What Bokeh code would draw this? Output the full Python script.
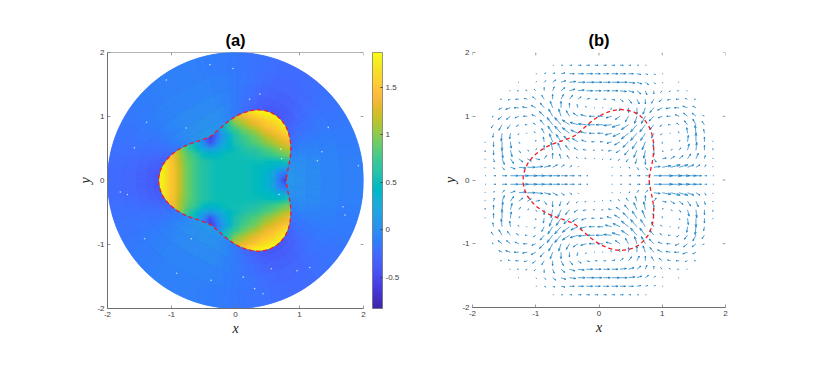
import math
import numpy as np
from bokeh.embed import file_html
from bokeh.resources import INLINE
from bokeh.plotting import figure
from bokeh.layouts import row
from bokeh.models import ColumnDataSource, LinearColorMapper, ColorBar, FixedTicker, Range1d

PARULA = [
 (.2422,.1504,.6603),(.2504,.1650,.7076),(.2578,.1818,.7511),(.2647,.1978,.7952),(.2706,.2147,.8364),
 (.2751,.2342,.8710),(.2783,.2559,.8991),(.2803,.2782,.9221),(.2813,.3006,.9414),(.2810,.3228,.9579),
 (.2795,.3447,.9717),(.2760,.3667,.9829),(.2699,.3892,.9906),(.2602,.4123,.9952),(.2440,.4358,.9988),
 (.2206,.4603,.9973),(.1963,.4847,.9892),(.1834,.5074,.9798),(.1786,.5289,.9682),(.1764,.5499,.9520),
 (.1687,.5703,.9359),(.1540,.5902,.9218),(.1460,.6091,.9079),(.1380,.6276,.8973),(.1248,.6459,.8883),
 (.1113,.6635,.8763),(.0952,.6798,.8598),(.0689,.6948,.8394),(.0297,.7082,.8163),(.0036,.7203,.7917),
 (.0067,.7312,.7660),(.0433,.7411,.7394),(.0964,.7500,.7120),(.1408,.7584,.6842),(.1717,.7670,.6554),
 (.1938,.7758,.6251),(.2161,.7843,.5923),(.2470,.7918,.5567),(.2906,.7973,.5188),(.3406,.8008,.4789),
 (.3909,.8029,.4354),(.4456,.8024,.3909),(.5044,.7993,.3480),(.5616,.7942,.3045),(.6174,.7876,.2612),
 (.6720,.7793,.2227),(.7242,.7698,.1910),(.7738,.7598,.1646),(.8203,.7498,.1535),(.8634,.7406,.1596),
 (.9035,.7330,.1774),(.9393,.7288,.2100),(.9728,.7298,.2394),(.9956,.7434,.2371),(.9970,.7659,.2199),
 (.9952,.7893,.2028),(.9892,.8136,.1885),(.9786,.8386,.1766),(.9676,.8639,.1643),(.9610,.8890,.1537),
 (.9597,.9135,.1423),(.9628,.9373,.1265),(.9691,.9606,.1064),(.9769,.9839,.0805)]
palette = []
for i in range(63):
    for t in (0, .25, .5, .75):
        c = [PARULA[i][n] * (1 - t) + PARULA[i + 1][n] * t for n in range(3)]
        palette.append("#%02x%02x%02x" % tuple(int(round(v * 255)) for v in c))
palette.append("#f9fb15")

color_low, color_high = -0.83, 1.87
ticks = [-2, -1, 0, 1, 2]
cbar_ticks = [-0.5, 0, 0.5, 1, 1.5]
cbar_labels = {-0.5: "-0.5", 0: "0", 0.5: "0.5", 1: "1", 1.5: "1.5"}

# boundary radius read at 2.5, 7.5, ... 57.5 degrees (repeats three-fold)
boundary_r = [0.795, 0.815, 0.84, 0.88, 0.925, 0.975, 1.025, 1.075, 1.12, 1.16, 1.185, 1.2]

# inner field, columns x = -1.3 .. 0.9 step 0.1, rows y = 1.2 .. 0 step 0.1 (mirrored below y = 0)
inner_field = [
 [1.6,1.6,1.6,1.6,1.6,1.6,1.6,1.6,1.6,1.6,1.6,1.6,1.6,1.6,1.6,1.85,1.85,1.85,1.85,1.85,1.85,1.85,1.85],
 [1.5,1.5,1.5,1.5,1.5,1.5,1.5,1.5,1.5,1.5,1.5,1.5,1.5,1.5,1.5,1.7,1.8,1.85,1.85,1.85,1.85,1.85,1.85],
 [1.1,1.1,1.1,1.1,1.1,1.1,1.1,1.1,1.1,1.1,1.1,1.1,1.1,1.25,1.35,1.45,1.55,1.65,1.72,1.8,1.85,1.85,1.85],
 [.5,.5,.5,.5,.5,.5,.5,.5,.5,.5,.5,.5,.7,1.0,1.1,1.22,1.35,1.47,1.55,1.62,1.72,1.85,1.85],
 [-.1,-.1,-.1,-.1,-.1,-.1,-.1,-.1,-.1,-.1,-.1,.3,.6,.75,.9,1.0,1.12,1.27,1.4,1.5,1.6,1.7,1.7],
 [-.3,-.3,-.3,-.3,-.3,-.3,-.3,-.3,-.3,-.6,-.25,.1,.35,.62,.78,.85,.95,1.07,1.22,1.32,1.42,1.55,1.6],
 [.8,.8,.8,.8,.8,.7,.55,.3,-.05,-.45,-.1,.2,.4,.58,.7,.78,.85,.95,1.05,1.15,1.25,1.35,1.4],
 [1.2,1.2,1.2,1.2,1.1,.85,.62,.42,.2,.1,.2,.33,.42,.52,.58,.66,.7,.78,.85,.95,1.05,1.15,1.25],
 [1.5,1.5,1.5,1.42,1.18,.95,.8,.65,.5,.42,.45,.5,.53,.54,.55,.57,.6,.66,.72,.78,.85,.93,1.05],
 [1.7,1.7,1.65,1.48,1.22,.98,.84,.72,.62,.56,.53,.52,.52,.52,.52,.52,.52,.52,.5,.5,.5,.55,.7],
 [1.85,1.85,1.7,1.5,1.25,1.0,.85,.72,.62,.56,.52,.52,.52,.52,.52,.52,.5,.48,.44,.38,.3,.25,.3],
 [1.85,1.85,1.7,1.5,1.25,1.0,.85,.72,.62,.56,.52,.52,.52,.52,.52,.52,.5,.45,.35,.18,-.08,-.2,-.1],
 [1.85,1.85,1.7,1.5,1.25,1.0,.85,.72,.62,.56,.52,.52,.52,.52,.52,.52,.5,.45,.35,.15,-.2,-.6,-.6],
]

# outer field, rows = 0,5..60 degrees, columns = bands from the boundary to r = 2
outer_field = [
 [.08,.04,-.02,-.07,-.10],
 [.07,.03,-.02,-.07,-.10],
 [.05,.02,-.03,-.08,-.11],
 [.02,.00,-.04,-.09,-.12],
 [-.03,-.04,-.07,-.10,-.13],
 [-.09,-.09,-.10,-.12,-.14],
 [-.15,-.14,-.14,-.15,-.16],
 [-.21,-.19,-.18,-.17,-.18],
 [-.27,-.24,-.22,-.20,-.20],
 [-.32,-.29,-.26,-.23,-.22],
 [-.36,-.33,-.29,-.26,-.24],
 [-.39,-.35,-.31,-.27,-.25],
 [-.40,-.36,-.32,-.28,-.26],
]
outer_edges = [0, .1, .25, .45, .7, 1]

speck_x = [-.40,-.04,.38,.22,-1.08,-1.39,-1.58,-.77,1.35,1.45,.71,.72,.68,-1.80,-1.69,1.68,1.71,1.92,1.28,.56,1.16,.96,-.69,-.92,-.38,.12,.43,.30,-1.42]
speck_y = [1.81,1.75,1.35,1.27,1.57,.91,.51,.82,.45,.83,.49,.34,-.22,-.18,-.22,-.41,-.54,.23,.31,-1.38,-1.36,-1.41,-.91,-1.45,-1.56,-1.51,-1.77,-1.69,-.91]

# quiver, upper-right quadrant; hundredths of a data unit
grid_pos = [.067,.2,.333,.467,.6,.733,.867,1.0,1.133,1.267,1.4,1.533,1.667,1.8]
quiver_u = [
 [0,1,2,3,4,6,10,13,14,13,11,7,3,1],
 [0,1,1,2,2,3,8,11,12,11,8,5,2,0],
 [-1,-2,-2,-3,-2,0,3,5,5,5,4,3,1,0],
 [-2,-4,-5,-5,-4,-2,0,1,2,2,2,1,0,0],
 [-4,-6,-7,-7,-6,-4,-1,0,0,1,1,0,0,0],
 [-7,-8,-9,-9,-8,-6,-3,-2,-1,-1,-1,-1,-1,0],
 [-9,-10,-10,-9,-8,-7,-5,-3,-3,-3,-4,-4,-3,0],
 [-7,-7,-6,-4,-3,-5,-6,-5,-5,-5,-5,-5,-2,0],
 [-1,-1,-1,0,0,-3,-5,-6,-6,-6,-6,-4,0,0],
 [3,4,4,4,3,0,-3,-4,-4,-4,-3,-2,0,0],
 [8,8,8,7,5,2,0,-2,-2,-2,-1,0,0,0],
 [9,10,9,8,6,4,2,1,0,-1,0,0,0,0],
 [7,8,7,6,5,3,2,1,0,0,0,0,0,0],
 [4,4,4,3,2,1,0,0,0,0,0,0,0,0],
]
quiver_v = [
 [0,0,0,0,0,0,0,0,0,0,0,0,0,0],
 [0,0,0,-1,-3,-3,1,2,3,3,3,3,3,1],
 [-1,-1,-2,-4,-6,-7,-4,1,3,4,6,7,4,1],
 [0,-1,-3,-6,-9,-10,-6,-2,1,3,8,10,6,2],
 [0,-2,-4,-7,-9,-10,-6,-2,0,2,8,11,6,1],
 [0,-2,-4,-7,-9,-9,-6,-2,0,2,7,10,5,0],
 [0,-1,-3,-6,-9,-9,-6,-2,0,2,5,7,4,0],
 [0,-2,-4,-7,-9,-9,-6,-2,0,2,4,4,1,0],
 [0,-2,-4,-6,-8,-8,-6,-3,-1,0,2,2,0,0],
 [0,-1,-3,-5,-6,-6,-5,-3,-1,0,1,0,0,0],
 [0,0,-1,-2,-4,-5,-4,-2,-1,0,0,0,0,0],
 [0,0,0,-1,-2,-3,-2,-1,0,0,0,0,0,0],
 [0,0,0,0,-1,-1,-1,0,0,0,0,0,0,0],
 [0,0,0,0,0,0,0,0,0,0,0,0,0,0],
]
# the jets left of centre reach closer to the centre than those on the right
left_jet_u0 = [0,2,4,6,8,9,10,11,12,12,10,6,3,1]
left_jet_u1 = [0,0,1,3,4,6,8,9,10,9,6,3,1,0]
left_jet_v1 = [0,0,1,2,3,3,2,1,0,-1,-2,-3,-2,-1]
QUIVER_SCALE = 1.25


def fold(deg):
    d = deg % 120
    return 120 - d if d > 60 else d


def vertex_r(deg):
    return boundary_r[int((fold(deg) - 2.5) / 5 + 0.5)]


def edge_r(deg):
    """radius on the boundary polyline, at any angle"""
    v0 = math.floor((deg - 2.5) / 5) * 5 + 2.5
    t = (deg - v0) / 5
    return vertex_r(v0) * (1 - t) + vertex_r(v0 + 5) * t


ang = [5 * i for i in range(72)]


def pt(r, deg):
    a = math.radians(deg)
    return r * math.cos(a), r * math.sin(a)


LAYERS = (-1.875, -0.625, 0.625, 1.875)
outer_layers = []
for delta in LAYERS:
    px, py, pv = [], [], []
    for d in ang:
        row_i = fold(d) // 5
        a0, a1 = d - 2.5 + delta, d + 2.5 + delta
        mid = d + 2.5 if delta > 0 else d - 2.5
        arc = [a0, mid, a1]
        for b in range(5):
            e0, e1 = outer_edges[b], outer_edges[b + 1]
            pts = [pt(edge_r(q) + e0 * (2 - edge_r(q)), q) for q in arc]
            pts += [pt(edge_r(q) + e1 * (2 - edge_r(q)), q) for q in arc[::-1]]
            px.append([q[0] for q in pts]); py.append([q[1] for q in pts]); pv.append(outer_field[row_i][b])
    outer_layers.append(dict(xs=px, ys=py, v=pv))

curve = [pt(vertex_r(d + 2.5), d + 2.5) for d in ang]
curve.append(curve[0])
curve_x = [c[0] for c in curve]
curve_y = [c[1] for c in curve]

sx, sy, ex, ey = [], [], [], []


def arrow(x, y, u, v):
    if u == 0 and v == 0:
        return
    u, v = u / 100 * QUIVER_SCALE, v / 100 * QUIVER_SCALE
    tx, ty = x + u, y + v
    sx.append(x); sy.append(y); ex.append(tx); ey.append(ty)
    for sign in (1, -1):
        sx.append(tx); sy.append(ty)
        ex.append(tx - 0.33 * u + sign * 0.11 * v)
        ey.append(ty - 0.33 * v - sign * 0.11 * u)


for j, y in enumerate(grid_pos):
    for k, x in enumerate(grid_pos):
        u, v = quiver_u[j][k], quiver_v[j][k]
        lu, lv = u, -v
        if j == 0:
            lu = left_jet_u0[k]
        if j == 1:
            lu, lv = left_jet_u1[k], left_jet_v1[k]
        arrow(x, y, u, v)
        arrow(x, -y, u, -v)
        arrow(-x, y, lu, lv)
        arrow(-x, -y, lu, -lv)


FONT = "Liberation Sans"
TXT = "#404040"
AX = "#6e6e6e"
overrides = {t: str(t) for t in ticks}
TICK = 0.045


def style_axis(ax, line=True):
    ax.ticker = FixedTicker(ticks=ticks)
    ax.major_tick_in = 3
    ax.major_tick_out = 0
    ax.minor_tick_line_color = None
    ax.major_tick_line_color = AX
    ax.major_tick_line_width = 0.7
    ax.axis_line_color = AX if line else None
    ax.axis_line_width = 1
    ax.major_label_text_font = FONT
    ax.major_label_text_font_size = "8px"
    ax.major_label_text_color = TXT
    ax.major_label_standoff = 3
    ax.major_label_overrides = overrides
    ax.axis_label_text_font = "Liberation Serif"
    ax.axis_label_text_font_style = "italic"
    ax.axis_label_text_font_size = "14px"
    ax.axis_label_text_color = "#202020"
    ax.axis_label_standoff = 1


def panel(title, w, h, left, right, line_left, line_top):
    p = figure(width=left + w + right, height=52 + h + 50, frame_width=w, frame_height=h,
               x_range=Range1d(-2, 2), y_range=Range1d(-2, 2),
               toolbar_location=None, output_backend="svg",
               min_border_left=left, min_border_right=right, min_border_top=52, min_border_bottom=50,
               background_fill_color=None, border_fill_color=None)
    p.outline_line_color = None
    p.grid.visible = False
    p.title.text = title
    p.title.align = "center"
    p.title.text_font = FONT
    p.title.text_font_style = "bold"
    p.title.text_font_size = "16.5px"
    p.title.text_color = "#000000"
    p.title.standoff = 7
    p.xaxis.axis_label = "x"
    p.yaxis.axis_label = "y"
    style_axis(p.xaxis[0])
    style_axis(p.yaxis[0], line=line_left)
    # mirrored tick marks on the top and right edges
    p.segment([t for t in ticks] + [2] * 5, [2] * 5 + [t for t in ticks],
              [t for t in ticks] + [2 - TICK] * 5, [2 - TICK] * 5 + [t for t in ticks],
              line_color=AX, line_width=0.7)
    if line_top:
        p.segment([-2], [2], [2], [2], line_color=AX, line_width=1)
    return p


mapper = LinearColorMapper(palette=palette, low=color_low, high=color_high)
a = panel("(a)", 256, 256, 107, 77, True, True)

inner = np.array(inner_field, dtype=float)
whole = np.vstack([inner, inner[-2::-1]])  # first row is the lowest y
# the same picture drawn at quarter-cell shifts, each layer weighted so all count equally
shifts = [-0.0375, -0.0125, 0.0125, 0.0375]
layer = 0
for dy in shifts:
    for dx in shifts:
        layer += 1
        a.image(image=[whole], x=-1.35 + dx, y=-1.25 + dy, dw=2.3, dh=2.5, color_mapper=mapper,
                global_alpha=1.0 / layer)

for i, data in enumerate(outer_layers):
    m = {"field": "v", "transform": mapper}
    a.patches("xs", "ys", source=ColumnDataSource(data), fill_color=m,
              line_color=m if i == 0 else None, line_width=0.6, fill_alpha=1.0 / (i + 1))
a.scatter(speck_x, speck_y, size=1.6, color="#ffffff", alpha=0.7, line_color=None)
a.line(curve_x, curve_y, line_color="#ee1c25", line_width=1.3, line_dash="4 3")
cb = ColorBar(color_mapper=mapper, ticker=FixedTicker(ticks=cbar_ticks), major_label_overrides=cbar_labels,
              width=10, height=256, margin=0, padding=9, major_label_text_font=FONT,
              major_label_text_font_size="8px", major_label_text_color=TXT, label_standoff=3,
              major_tick_in=2, major_tick_line_color="#404040", minor_tick_line_color=None,
              bar_line_color="#5a5a5a", bar_line_width=0.6, location=(0, -9),
              background_fill_color=None, border_line_color=None)
a.add_layout(cb, "right")

b = panel("(b)", 253, 255, 31, 10, False, False)
b.segment(sx, sy, ex, ey, line_color="#0072bd", line_width=1.0, line_alpha=0.65)
b.line(curve_x, curve_y, line_color="#ee1c25", line_width=1.3, line_dash="4 3")

open("out.html", "w").write(file_html(row(a, b, spacing=0), INLINE))
